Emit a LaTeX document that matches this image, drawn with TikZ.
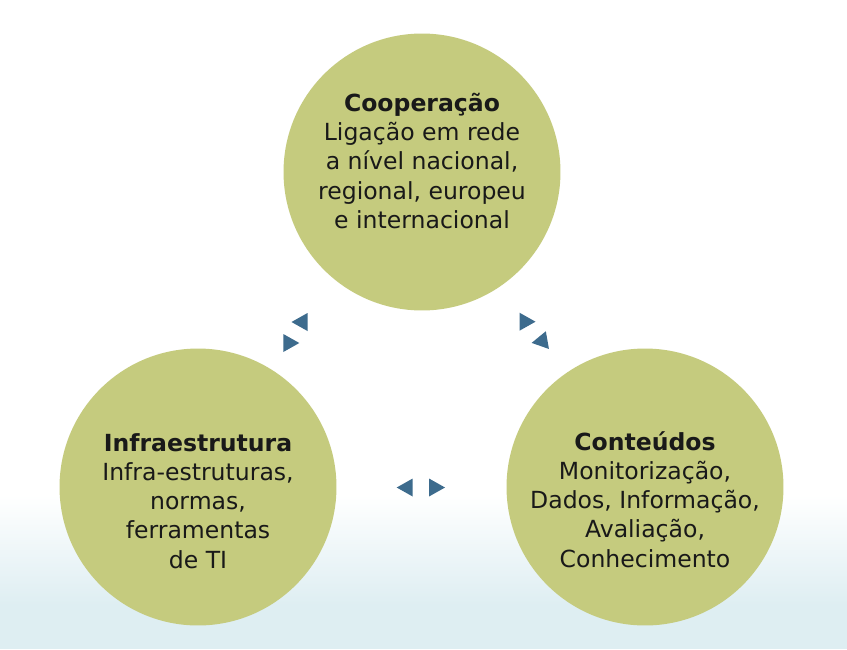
\documentclass[tikz,border=0pt]{standalone}
\usepackage{fontspec}
\setmainfont{DejaVu Sans}
\usepackage{tikz}
\usetikzlibrary{positioning,calc}
\usepackage{xcolor}
\definecolor{olivefill}{RGB}{197,203,126}
\definecolor{tipblue}{RGB}{61,107,141}
\definecolor{paleblue}{RGB}{222,238,242}
\tikzset{
  bubble/.style={circle, fill=olivefill, draw=none, minimum size=5.54cm, inner sep=0pt},
  bubbletext/.style={align=center, font=\fontsize{13.4}{16.6}\selectfont, text=black!90},
  tipshape/.style={fill=tipblue, draw=none},
}

\begin{document}
\begin{tikzpicture}[x=0.02cm, y=-0.02cm]
% background
\fill[white] (0,0) rectangle (847,649);
\shade[top color=white, bottom color=paleblue] (0,495) rectangle (847,605);
\fill[paleblue] (0,605) rectangle (847,649);
\useasboundingbox (0,0) rectangle (847,649);

\node[bubble] (coop) at (422,172) {};
\node[bubble] (infra) at (198,487) {};
\node[bubble] (cont) at (645,487) {};

\node[bubbletext] (cooptext) at ([yshift=0.22cm]coop.center)
  {\textbf{Cooperação}\\Ligação em rede\\a nível nacional,\\regional, europeu\\e internacional};
\node[bubbletext] (infratext) at ([yshift=-0.28cm]infra.center)
  {\textbf{Infraestrutura}\\Infra-estruturas,\\normas,\\ferramentas\\de TI};
\node[bubbletext] (conttext) at ([yshift=-0.25cm]cont.center)
  {\textbf{Conteúdos}\\Monitorização,\\Dados, Informação,\\Avaliação,\\Conhecimento};

% small triangles between the bubbles
\foreach \px/\py/\ang in {299.5/322/180, 291.3/343/0, 527.5/321.7/0,
                          539.5/341.5/190, 404.7/487.5/180, 437/487.5/0}
  \fill[tipshape, shift={(\px,\py)}, rotate=\ang] (8,0) -- (-8,9) -- (-8,-9) -- cycle;
\end{tikzpicture}
\end{document}
